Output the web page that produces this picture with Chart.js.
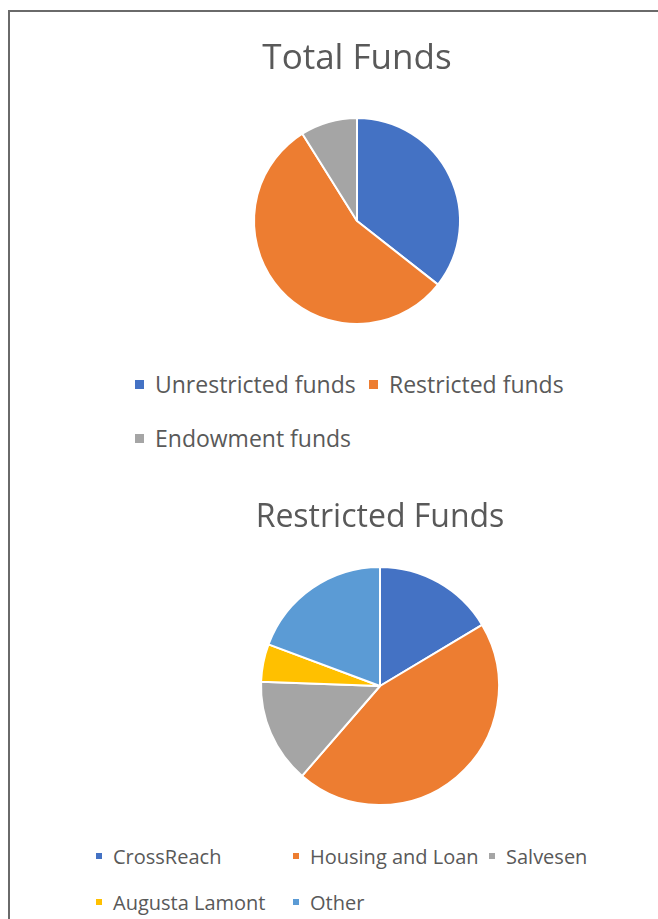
<!DOCTYPE html>
<html>
<head>
<meta charset="utf-8">
<script src="https://cdn.jsdelivr.net/npm/chart.js@4"></script>
<style>
  html, body { margin: 0; padding: 0; background: #fff; overflow: hidden; }
  body { width: 658px; height: 919px; position: relative; font-family: "Open Sans", sans-serif; color: #595959; }
  .marco { position: absolute; left: 8px; top: 10px; width: 700px; height: 1000px;
    border-left: 2px solid #6a6a6a; border-top: 2px solid #6a6a6a; }
  .caja { position: absolute; left: 0; width: 658px; }
  .leyenda { position: absolute; display: grid; }
  .item { display: flex; align-items: center; white-space: nowrap; }
  .item span.cuadro { display: inline-block; flex: none; }
</style>
</head>
<body>
<div class="marco"></div>
<div class="caja" id="caja1" style="top:0;height:354px"><canvas id="grafico1"></canvas></div>
<div class="leyenda" id="leyenda1" style="left:135px;top:357px;grid-template-columns:234px 234px;grid-auto-rows:54px;font-size:23px"></div>
<div class="caja" id="caja2" style="top:460px;height:364px"><canvas id="grafico2"></canvas></div>
<div class="leyenda" id="leyenda2" style="left:96px;top:833px;grid-template-columns:197px 196px 196px;grid-auto-rows:46px;font-size:20px"></div>
<script>
const totalLabels = ["Unrestricted funds", "Restricted funds", "Endowment funds"];
const totalValues = [35.6, 55.5, 8.9];
const totalColors = ["#4472C4", "#ED7D31", "#A5A5A5"];

const restrictedLabels = ["CrossReach", "Housing and Loan", "Salvesen", "Augusta Lamont", "Other"];
const restrictedValues = [16.4, 44.9, 14.2, 5.1, 19.3];
const restrictedColors = ["#4472C4", "#ED7D31", "#A5A5A5", "#FFC000", "#5B9BD5"];

function crearPie(canvas, titulo, labels, values, colors, radio, padIzq, tituloFont, tituloPad) {
  return new Chart(canvas, {
    type: "pie",
    data: {
      labels,
      datasets: [{
        data: values,
        backgroundColor: colors,
        borderColor: "#ffffff",
        borderWidth: 2,
        hoverOffset: 0,
      }],
    },
    options: {
      responsive: true,
      maintainAspectRatio: false,
      animation: false,
      radius: radio,
      layout: { padding: { left: padIzq, right: 0, top: 0, bottom: 0 } },
      plugins: {
        legend: { display: false },
        tooltip: { enabled: false },
        title: {
          display: true,
          text: titulo,
          color: "#595959",
          font: { family: "Open Sans", size: tituloFont, weight: "normal" },
          padding: tituloPad,
        },
      },
    },
  });
}

// leyenda en rejilla, como la de Excel
function crearLeyenda(contenedor, chart, lado) {
  const ds = chart.data.datasets[0];
  chart.data.labels.forEach((label, i) => {
    const item = document.createElement("div");
    item.className = "item";
    const cuadro = document.createElement("span");
    cuadro.className = "cuadro";
    cuadro.style.width = lado + "px";
    cuadro.style.height = lado + "px";
    cuadro.style.marginRight = "11px";
    cuadro.style.background = ds.backgroundColor[i];
    const texto = document.createElement("span");
    texto.textContent = label;
    item.appendChild(cuadro);
    item.appendChild(texto);
    contenedor.appendChild(item);
  });
}

const pie1 = crearPie(document.getElementById("grafico1"), "Total Funds", totalLabels, totalValues, totalColors,
  103, 56, 35, { top: 38, bottom: 8 });
const pie2 = crearPie(document.getElementById("grafico2"), "Restricted Funds", restrictedLabels, restrictedValues, restrictedColors,
  119, 102, 32, { top: 39, bottom: 10.6 });
crearLeyenda(document.getElementById("leyenda1"), pie1, 9);
crearLeyenda(document.getElementById("leyenda2"), pie2, 6);
</script>
</body>
</html>
